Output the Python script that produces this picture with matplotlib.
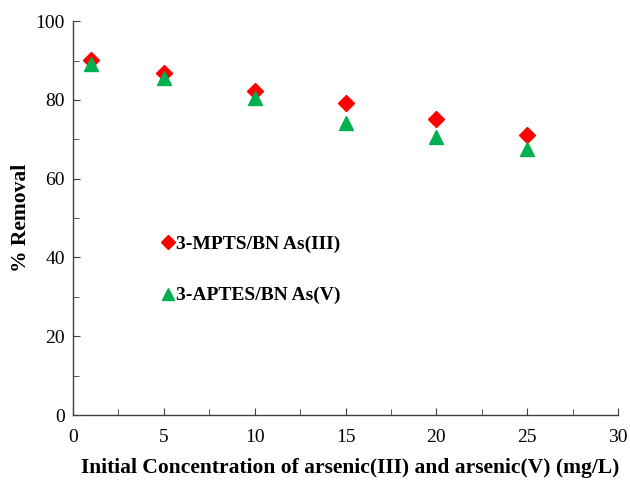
import matplotlib
matplotlib.use("Agg")
import matplotlib.pyplot as plt
from matplotlib.ticker import MultipleLocator

conc = [1, 5, 10, 15, 20, 25]
mpts = [90.1, 86.8, 82.2, 79.2, 75.1, 71.0]
aptes = [89.1, 85.6, 80.5, 74.2, 70.6, 67.5]
labels = ["3-MPTS/BN As(III)", "3-APTES/BN As(V)"]

plt.rcParams['font.family'] = ['Liberation Serif', 'DejaVu Serif']

fig = plt.figure(figsize=(6.3, 4.82), dpi=100)
ax = fig.add_axes([0.116, 0.139, 0.865, 0.817])

ax.plot(conc, mpts, linestyle='none', marker='D', markersize=8, color='#ff0000', label=labels[0], zorder=3)
ax.plot(conc, aptes, linestyle='none', marker='^', markersize=9.5, color='#00b050', label=labels[1], zorder=4)

ax.set_xlim(0, 30)
ax.set_ylim(0, 100)
ax.xaxis.set_major_locator(MultipleLocator(5))
ax.xaxis.set_minor_locator(MultipleLocator(2.5))
ax.yaxis.set_major_locator(MultipleLocator(20))
ax.yaxis.set_minor_locator(MultipleLocator(10))
for s in ['top', 'right']:
    ax.spines[s].set_visible(False)
for s in ['left', 'bottom']:
    ax.spines[s].set_color('#404040')
    ax.spines[s].set_linewidth(1.0)
ax.tick_params(which='both', direction='in', colors='#404040', labelcolor='black', labelsize=14)
ax.tick_params(which='major', length=5)
ax.tick_params(which='minor', length=4)
ax.tick_params(axis='x', pad=10)
ax.tick_params(axis='y', pad=6)

ax.set_xlabel("Initial Concentration of arsenic(III) and arsenic(V) (mg/L)", fontsize=15.5, fontweight='bold')
ax.xaxis.set_label_coords(0.508, -0.11)
ax.set_ylabel("% Removal", fontsize=15.5, fontweight='bold', labelpad=3)

leg = ax.legend(loc='upper left', bbox_to_anchor=(0.13, 0.50), frameon=False,
                prop={'weight': 'bold', 'size': 14}, handlelength=0.7, handletextpad=0.05,
                labelspacing=1.72, markerscale=0.85)

fig.savefig("out.png", dpi=100)
